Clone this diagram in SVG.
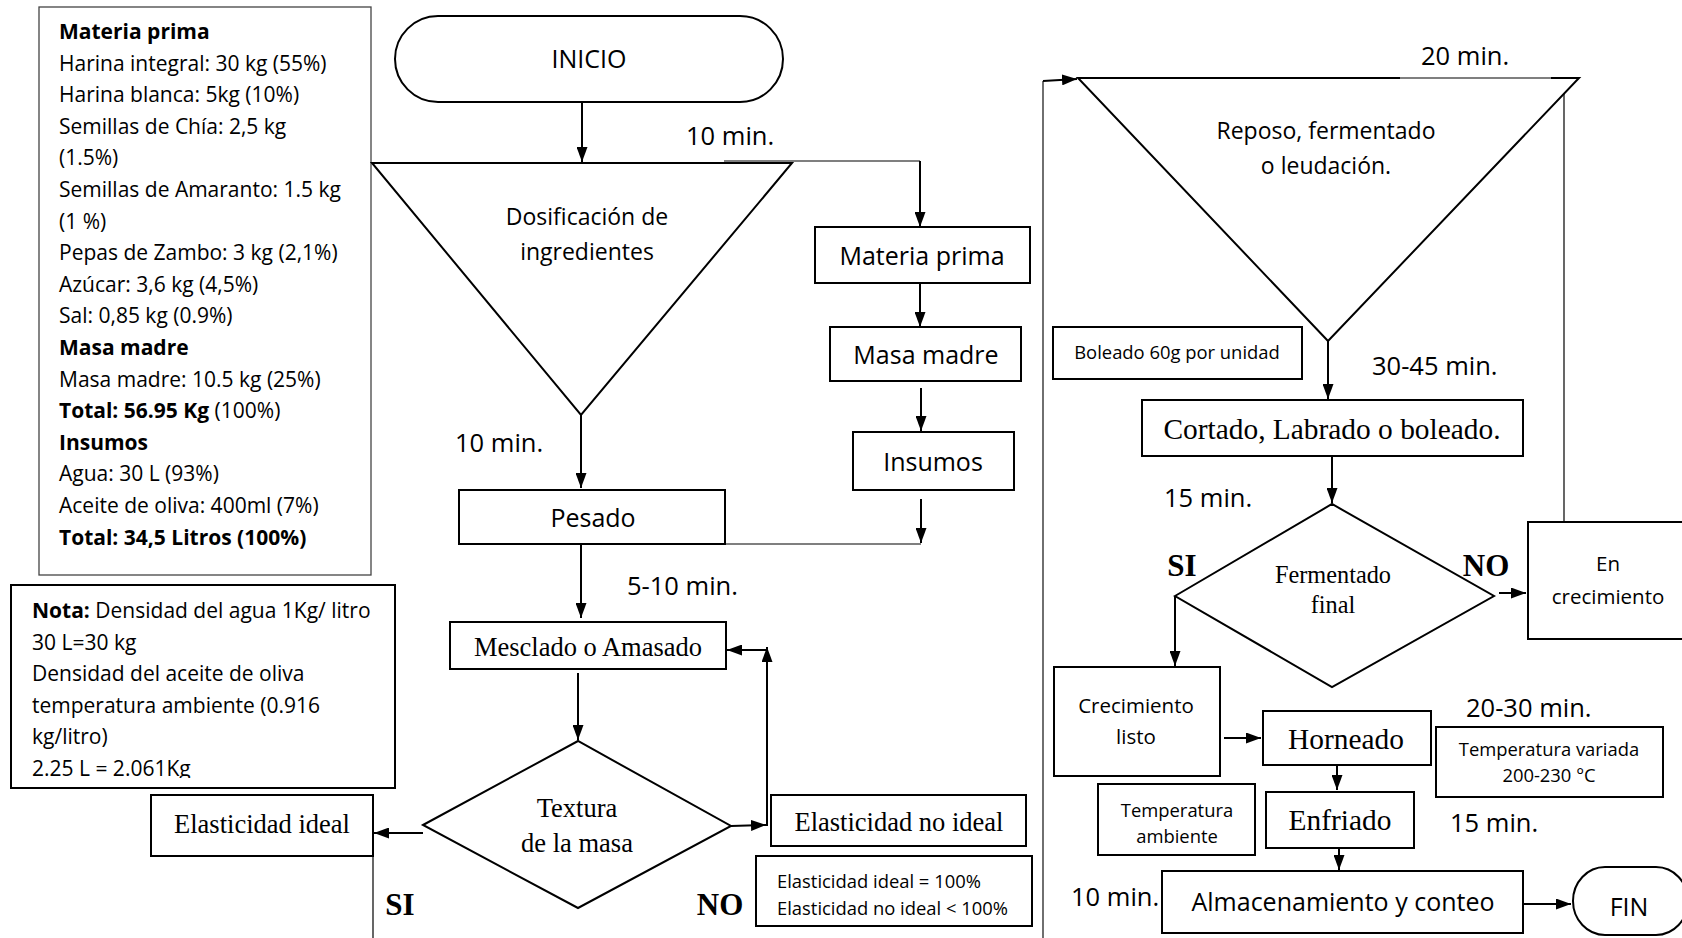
<svg xmlns="http://www.w3.org/2000/svg" width="1682" height="938" viewBox="0 0 1682 938">
  <style>
    .box { fill: #fff; stroke: #000; stroke-width: 2; }
    .info { fill: #fff; stroke: #444; stroke-width: 1.3; }
    .conn { fill: none; stroke: #000; stroke-width: 2; }
    .thin { fill: none; stroke: #000; stroke-width: 1.2; }
    .sep { fill: none; stroke: #333; stroke-width: 1.4; }
    .sans { font-family: "Open Sans", "Liberation Sans", sans-serif; fill: #000; }
    .serif { font-family: "Liberation Serif", "Times New Roman", serif; fill: #000; }
    .mid { text-anchor: middle; }
    .t25 { font-size: 25px; }
    .t23 { font-size: 23px; }
    .t21 { font-size: 21px; }
    .t20 { font-size: 20.5px; }
    .t18 { font-size: 18.4px; }
    .time { font-size: 25.5px; }
    .s26 { font-size: 26.5px; }
    .s29 { font-size: 29.4px; }
    .s24 { font-size: 24.3px; }
    .yesno { font-size: 31px; font-weight: bold; }
    .b { font-weight: bold; }
  </style>
  <defs>
    <marker id="ah" viewBox="0 0 15 11" refX="15" refY="5.5" markerWidth="15" markerHeight="11" markerUnits="userSpaceOnUse" orient="auto">
      <path d="M0,0 L15,5.5 L0,11 z" fill="#000"/>
    </marker>
    <clipPath id="notaClip">
      <rect x="11" y="585" width="384" height="193"/>
    </clipPath>
  </defs>

  <rect width="1682" height="938" fill="#fff"/>

  <!-- connectors -->
  <g id="connectors">
    <path class="conn" d="M582,102 V162" marker-end="url(#ah)"/>
    <path class="thin" d="M724,161 H920"/>
    <path class="conn" d="M920,161 V227" marker-end="url(#ah)"/>
    <path class="conn" d="M920,283 V327" marker-end="url(#ah)"/>
    <path class="conn" d="M921,388 V431" marker-end="url(#ah)"/>
    <path class="conn" d="M921,499 V543" marker-end="url(#ah)"/>
    <path class="thin" d="M725,544 H921"/>
    <path class="conn" d="M581,415 V488" marker-end="url(#ah)"/>
    <path class="conn" d="M581,544 V618" marker-end="url(#ah)"/>
    <path class="conn" d="M578,673 V740" marker-end="url(#ah)"/>
    <path class="conn" d="M423,833 H374" marker-end="url(#ah)"/>
    <path class="thin" d="M373,856 V938"/>
    <path class="conn" d="M731,826 L766,825" marker-end="url(#ah)"/>
    <path class="conn" d="M767,826 V647" marker-end="url(#ah)"/>
    <path class="conn" d="M767,650 H727" marker-end="url(#ah)"/>
    <path class="sep" d="M1043,81 V938"/>
    <path class="conn" d="M1043,81 L1077,79" marker-end="url(#ah)"/>
    <path class="thin" d="M1564,94 V522"/>
    <path class="conn" d="M1328,341 V399" marker-end="url(#ah)"/>
    <path class="conn" d="M1332,456 V503" marker-end="url(#ah)"/>
    <path class="conn" d="M1499,593 H1526" marker-end="url(#ah)"/>
    <path class="conn" d="M1175,596 V666" marker-end="url(#ah)"/>
    <path class="conn" d="M1224,738 H1261" marker-end="url(#ah)"/>
    <path class="conn" d="M1337,765 V790" marker-end="url(#ah)"/>
    <path class="conn" d="M1339,848 V870" marker-end="url(#ah)"/>
    <path class="conn" d="M1523,904 H1571" marker-end="url(#ah)"/>
  </g>

  <!-- ingredient list -->
  <g id="materia-prima-lista">
    <rect class="info" x="39" y="7" width="332" height="568"/>
    <text class="sans t21" x="59" y="39">
      <tspan x="59" class="b">Materia prima</tspan>
      <tspan x="59" dy="31.6">Harina integral: 30 kg (55%)</tspan>
      <tspan x="59" dy="31.6">Harina blanca: 5kg (10%)</tspan>
      <tspan x="59" dy="31.6">Semillas de Chía: 2,5 kg</tspan>
      <tspan x="59" dy="31.6">(1.5%)</tspan>
      <tspan x="59" dy="31.6">Semillas de Amaranto: 1.5 kg</tspan>
      <tspan x="59" dy="31.6">(1 %)</tspan>
      <tspan x="59" dy="31.6">Pepas de Zambo: 3 kg (2,1%)</tspan>
      <tspan x="59" dy="31.6">Azúcar: 3,6 kg (4,5%)</tspan>
      <tspan x="59" dy="31.6">Sal: 0,85 kg (0.9%)</tspan>
      <tspan x="59" dy="31.6" class="b">Masa madre</tspan>
      <tspan x="59" dy="31.6">Masa madre: 10.5 kg (25%)</tspan>
      <tspan x="59" dy="31.6"><tspan class="b">Total: 56.95 Kg</tspan> (100%)</tspan>
      <tspan x="59" dy="31.6" class="b">Insumos</tspan>
      <tspan x="59" dy="31.6">Agua: 30 L (93%)</tspan>
      <tspan x="59" dy="31.6">Aceite de oliva: 400ml (7%)</tspan>
      <tspan x="59" dy="31.6" class="b">Total: 34,5 Litros (100%)</tspan>
    </text>
  </g>

  <g id="nota">
    <rect class="box" x="11" y="585" width="384" height="203"/>
    <text class="sans t21" x="32" y="618" clip-path="url(#notaClip)">
      <tspan x="32"><tspan class="b">Nota:</tspan> Densidad del agua 1Kg/ litro</tspan>
      <tspan x="32" dy="31.6">30 L=30 kg</tspan>
      <tspan x="32" dy="31.6">Densidad del aceite de oliva</tspan>
      <tspan x="32" dy="31.6">temperatura ambiente (0.916</tspan>
      <tspan x="32" dy="31.6">kg/litro)</tspan>
      <tspan x="32" dy="31.6">2.25 L = 2.061Kg</tspan>
    </text>
  </g>

  <g id="inicio">
    <rect class="box" x="395" y="16" width="388" height="86" rx="43" ry="43"/>
    <text class="sans t25 mid" x="589" y="68">INICIO</text>
  </g>

  <g id="dosificacion">
    <polygon class="box" points="372,163 792,163 581,415"/>
    <text class="sans t23 mid" x="587" y="225">Dosificación de</text>
    <text class="sans t23 mid" x="587" y="260">ingredientes</text>
  </g>

  <g id="materia-prima">
    <rect class="box" x="815" y="227" width="215" height="56"/>
    <text class="sans t25 mid" x="922" y="265">Materia prima</text>
  </g>

  <g id="masa-madre">
    <rect class="box" x="830" y="327" width="191" height="54"/>
    <text class="sans t25 mid" x="926" y="364">Masa madre</text>
  </g>

  <g id="insumos">
    <rect class="box" x="853" y="432" width="161" height="58"/>
    <text class="sans t25 mid" x="933" y="471">Insumos</text>
  </g>

  <g id="pesado">
    <rect class="box" x="459" y="490" width="266" height="54"/>
    <text class="sans t25 mid" x="593" y="527">Pesado</text>
  </g>

  <g id="mesclado">
    <rect class="box" x="450" y="622" width="276" height="47"/>
    <text class="serif s26 mid" x="588" y="656">Mesclado o Amasado</text>
  </g>

  <g id="textura">
    <polygon class="box" points="423,825 578,741 731,826 578,908"/>
    <text class="serif s26 mid" x="577" y="817">Textura</text>
    <text class="serif s26 mid" x="577" y="852">de la masa</text>
  </g>

  <g id="elasticidad-ideal">
    <rect class="box" x="151" y="795" width="222" height="61"/>
    <text class="serif s26 mid" x="262" y="833">Elasticidad ideal</text>
  </g>

  <g id="elasticidad-no-ideal">
    <rect class="box" x="771" y="795" width="255" height="51"/>
    <text class="serif s26 mid" x="899" y="831">Elasticidad no ideal</text>
  </g>

  <g id="elasticidad-nota">
    <rect class="box" x="756" y="856" width="276" height="70"/>
    <text class="sans t18" x="777" y="888">Elasticidad ideal = 100%</text>
    <text class="sans t18" x="777" y="915">Elasticidad no ideal &lt; 100%</text>
  </g>

  <g id="reposo">
    <polygon class="box" points="1078,78 1579,78 1328,341"/>
    <path d="M1400,78 H1551" stroke="#fff" stroke-width="2.4"/>
    <path d="M1400,78 H1551" stroke="#000" stroke-width="1.1"/>
    <text class="sans t23 mid" x="1326" y="139">Reposo, fermentado</text>
    <text class="sans t23 mid" x="1326" y="174">o leudación.</text>
  </g>

  <g id="boleado">
    <rect class="box" x="1053" y="327" width="249" height="52"/>
    <text class="sans t18 mid" x="1177" y="359">Boleado 60g por unidad</text>
  </g>

  <g id="cortado">
    <rect class="box" x="1142" y="400" width="381" height="56"/>
    <text class="serif s29 mid" x="1332" y="439">Cortado, Labrado o boleado.</text>
  </g>

  <g id="fermentado-final">
    <polygon class="box" points="1175,596 1332,504 1494,596 1332,687"/>
    <text class="serif s24 mid" x="1333" y="583">Fermentado</text>
    <text class="serif s24 mid" x="1333" y="613">final</text>
  </g>

  <g id="en-crecimiento">
    <rect class="box" x="1528" y="522" width="160" height="117"/>
    <text class="sans t20 mid" x="1608" y="571">En</text>
    <text class="sans t20 mid" x="1608" y="604">crecimiento</text>
  </g>

  <g id="crecimiento-listo">
    <rect class="box" x="1054" y="667" width="166" height="109"/>
    <text class="sans t20 mid" x="1136" y="713">Crecimiento</text>
    <text class="sans t20 mid" x="1136" y="744">listo</text>
  </g>

  <g id="horneado">
    <rect class="box" x="1263" y="711" width="168" height="54"/>
    <text class="serif s29 mid" x="1346" y="749">Horneado</text>
  </g>

  <g id="temperatura-variada">
    <rect class="box" x="1436" y="727" width="227" height="70"/>
    <text class="sans t18 mid" x="1549" y="756">Temperatura variada</text>
    <text class="sans t18 mid" x="1549" y="782">200-230 °C</text>
  </g>

  <g id="enfriado">
    <rect class="box" x="1266" y="792" width="148" height="56"/>
    <text class="serif s29 mid" x="1340" y="830">Enfriado</text>
  </g>

  <g id="temperatura-ambiente">
    <rect class="box" x="1098" y="784" width="157" height="71"/>
    <text class="sans t18 mid" x="1177" y="817">Temperatura</text>
    <text class="sans t18 mid" x="1177" y="843">ambiente</text>
  </g>

  <g id="almacenamiento">
    <rect class="box" x="1162" y="871" width="361" height="62"/>
    <text class="sans t25 mid" x="1343" y="911">Almacenamiento y conteo</text>
  </g>

  <g id="fin">
    <rect class="box" x="1573" y="867" width="115" height="68" rx="32" ry="34"/>
    <text class="sans t25 mid" x="1629" y="916">FIN</text>
  </g>

  <!-- durations and decision labels -->
  <g id="labels">
    <text class="sans time" x="686" y="145">10 min.</text>
    <text class="sans time" x="455" y="452">10 min.</text>
    <text class="sans time" x="627" y="595">5-10 min.</text>
    <text class="sans time" x="1421" y="65">20 min.</text>
    <text class="sans time" x="1372" y="375">30-45 min.</text>
    <text class="sans time" x="1164" y="507">15 min.</text>
    <text class="sans time" x="1466" y="717">20-30 min.</text>
    <text class="sans time" x="1450" y="832">15 min.</text>
    <text class="sans time" x="1071" y="906">10 min.</text>
    <text class="serif yesno mid" x="400" y="915">SI</text>
    <text class="serif yesno mid" x="720" y="915">NO</text>
    <text class="serif yesno mid" x="1182" y="576">SI</text>
    <text class="serif yesno mid" x="1486" y="576">NO</text>
  </g>
</svg>
